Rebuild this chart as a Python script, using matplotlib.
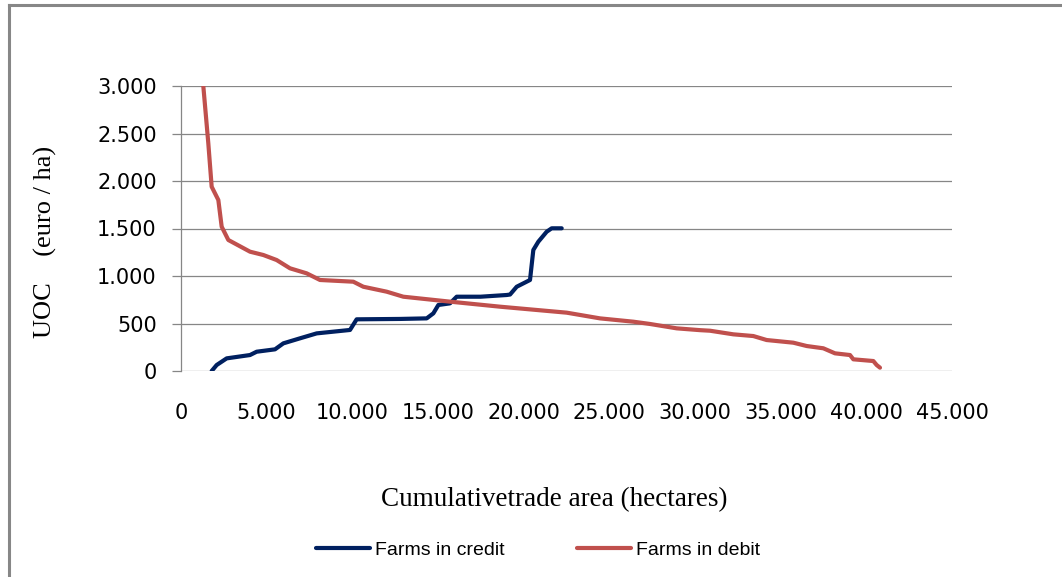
import matplotlib
matplotlib.use("Agg")
import matplotlib.pyplot as plt
from matplotlib.lines import Line2D
from matplotlib.ticker import FuncFormatter

# cumulative area (ha) and UOC (euro/ha)
credit_area = [1790, 2082, 2666, 4027, 4417, 5486, 5973, 6946, 7919, 9864,
               10252, 12782, 14340, 14729, 15021, 15700, 16091, 17481, 19010,
               19205, 19594, 20370, 20564, 20856, 21343, 21635, 22220]
credit_uoc = [0, 63, 133, 168, 203, 228, 291, 344, 396, 432,
              544, 548, 554, 607, 695, 712, 782, 782, 800,
              805, 887, 958, 1274, 1361, 1466, 1502, 1502]

debit_area = [1302, 1594, 1790, 2179, 2374, 2763, 4027, 4806, 5584, 6362,
              7335, 8113, 10057, 10641, 12003, 12976, 15700, 18619, 22512,
              24455, 26401, 27374, 28930, 30292, 30876, 32237, 33404, 34183,
              35739, 36518, 37490, 38171, 39047, 39241, 40408, 40603, 40797]
debit_uoc = [3000, 2397, 1940, 1800, 1519, 1379, 1256, 1221, 1168, 1081,
             1028, 958, 940, 887, 835, 782, 730, 677, 614,
             554, 519, 495, 449, 430, 424, 386, 368, 326,
             298, 263, 239, 186, 168, 123, 105, 63, 35]

x_ticks = list(range(0, 45001, 5000))
y_ticks = list(range(0, 3001, 500))

series_names = ["Farms in credit", "Farms in debit"]
series_colors = ["#002060", "#C0504D"]


def thousands(v, pos):
    return "{:,.0f}".format(v).replace(",", ".")


W, H = 1062, 577
fig = plt.figure(figsize=(W / 100, H / 100), dpi=100)
ax = fig.add_axes([181 / W, 1 - 371 / H, (952 - 181) / W, (371 - 86) / H])

ax.plot(credit_area, credit_uoc, color=series_colors[0], lw=3, label=series_names[0],
        solid_joinstyle="round", solid_capstyle="round")
ax.plot(debit_area, debit_uoc, color=series_colors[1], lw=3, label=series_names[1],
        solid_joinstyle="round", solid_capstyle="round")

ax.set_xlim(0, 45000)
ax.set_ylim(0, 3000)
ax.set_xticks(x_ticks)
ax.set_yticks(y_ticks)
ax.xaxis.set_major_formatter(FuncFormatter(thousands))
ax.yaxis.set_major_formatter(FuncFormatter(thousands))

ax.grid(axis="y", color="#868686", lw=0.9)
ax.set_axisbelow(True)
for s in ["top", "right", "bottom"]:
    ax.spines[s].set_visible(False)
ax.spines["left"].set_color("#868686")
ax.spines["left"].set_linewidth(0.9)

ax.tick_params(axis="x", length=0, pad=23, labelsize=15, labelcolor="black")
ax.tick_params(axis="y", length=6.5, width=0.9, color="#868686", pad=11,
               labelsize=15, labelcolor="black")

# axis titles placed where the reference has them
fig.text(554 / W, 1 - 500 / H, "Cumulativetrade area (hectares)",
         family="Liberation Serif", fontsize=19.5, ha="center", va="center")
fig.text(45 / W, 1 - 242 / H, "UOC    (euro / ha)", family="Liberation Serif",
         fontsize=19, rotation=90, ha="center", va="center")

fig.legend(loc="center", bbox_to_anchor=(538 / W, 1 - 550 / H), ncol=2,
           frameon=False, handlelength=2.8, handletextpad=0.25, columnspacing=3.7,
           prop={"family": "Liberation Sans", "size": 14})

# outer chart border (left and top edges visible)
fig.add_artist(Line2D([8.5 / W, 8.5 / W], [0, 1 - 4.5 / H],
                      transform=fig.transFigure, color="#878787", lw=2.2))
fig.add_artist(Line2D([8.5 / W, 1], [1 - 4.5 / H, 1 - 4.5 / H],
                      transform=fig.transFigure, color="#878787", lw=2.2))

fig.savefig("out.png", dpi=100)
